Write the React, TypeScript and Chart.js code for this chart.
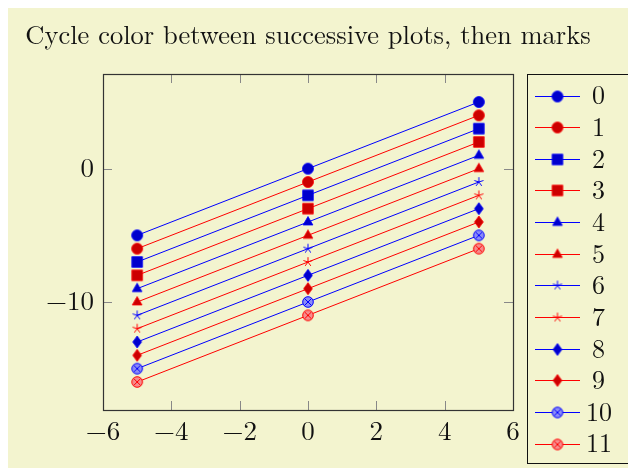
import React, { useEffect, useRef } from "react";
import { Chart, registerables } from "chart.js";

Chart.register(...registerables);

const titleText = "Cycle color between successive plots, then marks";
const xValues = [-5, 0, 5];
const series0 = [-5, 0, 5];
const series1 = [-6, -1, 4];
const series2 = [-7, -2, 3];
const series3 = [-8, -3, 2];
const series4 = [-9, -4, 1];
const series5 = [-10, -5, 0];
const series6 = [-11, -6, -1];
const series7 = [-12, -7, -2];
const series8 = [-13, -8, -3];
const series9 = [-14, -9, -4];
const series10 = [-15, -10, -5];
const series11 = [-16, -11, -6];
const seriesLabels = ["0", "1", "2", "3", "4", "5", "6", "7", "8", "9", "10", "11"];
const xTicks = [-6, -4, -2, 0, 2, 4, 6];
const yTicks = [-10, 0];

const allSeries = [series0, series1, series2, series3, series4, series5, series6, series7, series8, series9, series10, series11];
const markKinds = ["circle", "circle", "square", "square", "triangle", "triangle", "star", "star", "diamond", "diamond", "otimes", "otimes"];

const BG = "#f3f4cf";
const FONT = "'Latin Modern Roman', 'CMU Serif', 'Liberation Serif', serif";

function makeMarker(kind: string, line: string, fill: string, light: string): HTMLCanvasElement {
  const S = 16;
  const c = document.createElement("canvas");
  c.width = S;
  c.height = S;
  const g = c.getContext("2d")!;
  g.translate(S / 2, S / 2);
  g.lineWidth = 0.8;
  g.strokeStyle = line;
  g.fillStyle = fill;
  if (kind === "circle") {
    g.beginPath();
    g.arc(0, 0, 5.5, 0, Math.PI * 2);
    g.fill();
    g.stroke();
  } else if (kind === "square") {
    g.beginPath();
    g.rect(-5.3, -5.3, 10.6, 10.6);
    g.fill();
    g.stroke();
  } else if (kind === "triangle") {
    g.beginPath();
    g.moveTo(0, -5.5);
    g.lineTo(4.9, 3);
    g.lineTo(-4.9, 3);
    g.closePath();
    g.fill();
    g.stroke();
  } else if (kind === "star") {
    g.lineWidth = 1;
    g.beginPath();
    for (let i = 0; i < 5; i++) {
      const a = -Math.PI / 2 + (i * 2 * Math.PI) / 5;
      g.moveTo(0, 0);
      g.lineTo(4.8 * Math.cos(a), 4.8 * Math.sin(a));
    }
    g.stroke();
  } else if (kind === "diamond") {
    g.beginPath();
    g.moveTo(0, -6);
    g.lineTo(4.4, 0);
    g.lineTo(0, 6);
    g.lineTo(-4.4, 0);
    g.closePath();
    g.fill();
    g.stroke();
  } else if (kind === "otimes") {
    g.fillStyle = light;
    g.lineWidth = 1;
    g.beginPath();
    g.arc(0, 0, 5.3, 0, Math.PI * 2);
    g.fill();
    g.stroke();
    const d = 5.3 * Math.SQRT1_2;
    g.beginPath();
    g.moveTo(-d, -d);
    g.lineTo(d, d);
    g.moveTo(-d, d);
    g.lineTo(d, -d);
    g.stroke();
  }
  return c;
}

export default function App() {
  const ref = useRef<HTMLCanvasElement | null>(null);
  useEffect(() => {
    if (!ref.current) return;
    const markers = allSeries.map((_, i) => {
      const blue = i % 2 === 0;
      return makeMarker(
        markKinds[i],
        blue ? "#0000ff" : "#ff0000",
        blue ? "#0000cc" : "#cc0000",
        blue ? "#8c8cf6" : "#f68c8c"
      );
    });
    const datasets = allSeries.map((s, i) => ({
      label: seriesLabels[i],
      data: xValues.map((x, j) => ({ x, y: s[j] })),
      showLine: true,
      borderColor: i % 2 === 0 ? "#0000ff" : "#ff0000",
      backgroundColor: i % 2 === 0 ? "#0000cc" : "#cc0000",
      borderWidth: 1,
      pointStyle: markers[i] as any,
      pointRadius: 6,
    }));

    const bgPlugin = {
      id: "bg",
      beforeDraw(chart: any) {
        const { ctx, width, height } = chart;
        ctx.save();
        ctx.fillStyle = BG;
        ctx.fillRect(0, 0, width, height);
        ctx.restore();
      },
    };

    const framePlugin = {
      id: "frame",
      afterDatasetsDraw(chart: any) {
        const { ctx, chartArea } = chart;
        const xs = chart.scales.x;
        const ys = chart.scales.y;
        const TL = 9;
        ctx.save();
        ctx.strokeStyle = "#888";
        ctx.lineWidth = 1;
        ctx.beginPath();
        for (const v of xTicks.slice(1, -1)) {
          const px = Math.round(xs.getPixelForValue(v)) + 0.5;
          ctx.moveTo(px, chartArea.bottom);
          ctx.lineTo(px, chartArea.bottom - TL);
          ctx.moveTo(px, chartArea.top);
          ctx.lineTo(px, chartArea.top + TL);
        }
        for (const v of yTicks) {
          const py = Math.round(ys.getPixelForValue(v)) + 0.5;
          ctx.moveTo(chartArea.left, py);
          ctx.lineTo(chartArea.left + TL, py);
          ctx.moveTo(chartArea.right, py);
          ctx.lineTo(chartArea.right - TL, py);
        }
        ctx.stroke();
        ctx.strokeStyle = "#333";
        ctx.lineWidth = 1.2;
        ctx.strokeRect(
          Math.round(chartArea.left) + 0.5,
          Math.round(chartArea.top) + 0.5,
          Math.round(chartArea.right - chartArea.left),
          Math.round(chartArea.bottom - chartArea.top)
        );
        ctx.restore();
      },
      afterDraw(chart: any) {
        const { ctx, chartArea } = chart;
        ctx.save();
        // title
        ctx.font = `26.5px ${FONT}`;
        ctx.fillStyle = "#111";
        ctx.textAlign = "center";
        ctx.textBaseline = "alphabetic";
        ctx.fillText(titleText, (chartArea.left + chartArea.right) / 2, 36);
        // legend
        const bx = 519.5, by = 66.5, bw = 104, bh = 389;
        ctx.strokeStyle = "#111";
        ctx.lineWidth = 1;
        ctx.strokeRect(bx, by, bw, bh);
        const top = 87.5;
        const step = 31.64;
        ctx.font = `26px ${FONT}`;
        ctx.textBaseline = "middle";
        ctx.textAlign = "left";
        seriesLabels.forEach((lab, i) => {
          const y = top + i * step;
          const col = i % 2 === 0 ? "#0000ff" : "#ff0000";
          ctx.strokeStyle = col;
          ctx.lineWidth = 1;
          ctx.beginPath();
          ctx.moveTo(527, Math.round(y) + 0.5);
          ctx.lineTo(572, Math.round(y) + 0.5);
          ctx.stroke();
          const m = markers[i];
          ctx.drawImage(m, 549.5 - m.width / 2, Math.round(y) + 0.5 - m.height / 2);
          ctx.fillStyle = "#111";
          ctx.fillText(lab, i >= 10 ? 578 : 584, y + 1);
        });
        ctx.restore();
      },
    };

    const tickFmt = (v: any) => (Number(v) < 0 ? "\u2212" + Math.abs(Number(v)) : String(v));

    const chart = new Chart(ref.current, {
      type: "scatter",
      data: { datasets: datasets as any },
      options: {
        animation: false,
        responsive: false,
        layout: { padding: { left: 0, right: 123, top: 66, bottom: 0 } },
        plugins: {
          legend: { display: false },
          tooltip: { enabled: false },
          title: { display: false },
        },
        scales: {
          x: {
            type: "linear",
            min: -6,
            max: 6,
            afterFit(scale: any) {
              scale.height = 58;
            },
            afterBuildTicks(scale: any) {
              scale.ticks = xTicks.map((v) => ({ value: v }));
            },
            grid: { display: false, drawTicks: false },
            border: { display: false },
            ticks: {
              color: "#111",
              padding: 6,
              maxRotation: 0,
              autoSkip: false,
              font: { family: FONT, size: 27, lineHeight: 1.2 },
              callback: tickFmt,
            },
          },
          y: {
            type: "linear",
            min: -18.1,
            max: 7.1,
            afterFit(scale: any) {
              scale.width = 95;
            },
            afterBuildTicks(scale: any) {
              scale.ticks = yTicks.map((v) => ({ value: v }));
            },
            grid: { display: false, drawTicks: false },
            border: { display: false },
            ticks: {
              color: "#111",
              padding: 9,
              font: { family: FONT, size: 27 },
              callback: tickFmt,
            },
          },
        },
      },
      plugins: [bgPlugin, framePlugin],
    });
    return () => chart.destroy();
  }, []);

  return (
    <div style={{ width: 628, height: 460 }}>
      <canvas ref={ref} width={628} height={460} style={{ display: "block" }} />
    </div>
  );
}
